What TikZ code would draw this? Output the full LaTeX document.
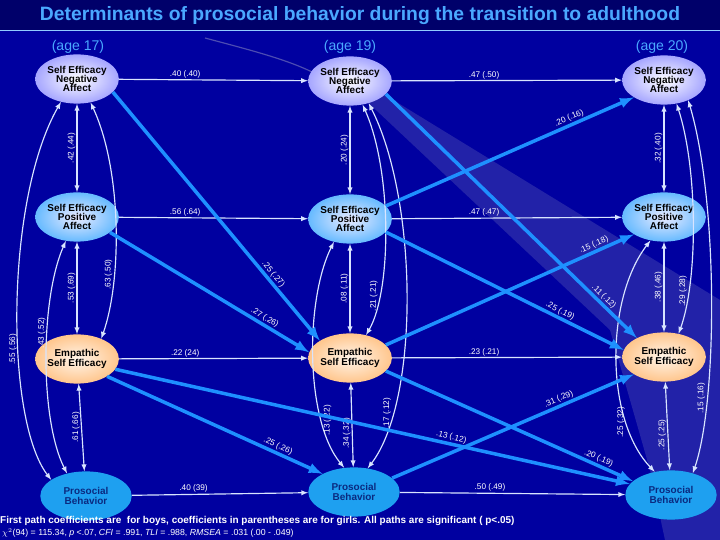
\documentclass[tikz,border=0pt]{standalone}
\usepackage{fontspec}
\setmainfont{Liberation Sans}
\usetikzlibrary{shapes.geometric}
\definecolor{bgblue}{HTML}{0000A0}
\definecolor{barblue}{HTML}{00006A}
\definecolor{agecol}{HTML}{4AA8FF}
\definecolor{thinline}{HTML}{D8E4FF}
\definecolor{thickline}{HTML}{1E90FF}
\definecolor{pbblue}{HTML}{1EA0F0}
\definecolor{pbtext}{HTML}{0A2A80}
\tikzset{
  latent/.style={ellipse, minimum width=70, minimum height=42, inner sep=0pt,
    align=center, font=\fontsize{8.5}{8}\selectfont\bfseries, text=black},
  negbox/.style={latent, inner color=white, outer color=blue!35!white},
  posbox/.style={latent, inner color=blue!8!white, outer color=blue!45!cyan!60!white},
  empbox/.style={latent, inner color=orange!8!white, outer color=orange!45!white},
  probox/.style={latent, minimum width=78, fill=pbblue, text=pbtext},
  lag/.style={draw=thinline, line width=1pt, -latex},
  cor/.style={draw=thinline, line width=1pt, latex-latex},
  cross/.style={draw=thickline, line width=3pt, -latex},
  coef/.style={font=\fontsize{7}{7}\selectfont, text=white, inner sep=1pt},
  age/.style={font=\fontsize{12}{12}\selectfont, text=agecol}
}
\begin{document}
\begin{tikzpicture}[x=0.03cm, y=-0.03cm]
\useasboundingbox (0,0) rectangle (720,540);
\fill[bgblue] (0,0) rectangle (720,540);
\fill[barblue] (0,0) rectangle (720,30);
\draw[agecol!60, line width=0.8pt] (0,30) -- (720,30);
\node[font=\fontsize{16.5}{16}\selectfont\bfseries, text=agecol] (title) at (360,16)
  {Determinants of prosocial behavior during the transition to adulthood};

% background band
\fill[blue!40!gray, opacity=0.45] (360,95) -- (385,95) -- (720,300) -- (720,540)
  -- (665,540) -- (650,470) -- (610,330) -- cycle;
\draw[blue!40!gray, line width=1pt] (205,38) .. controls (250,50) and (290,60) .. (318,75);

\node[age] (a17) at (78,47) {(age 17)};
\node[age] (a19) at (350,47) {(age 19)};
\node[age] (a20) at (662,47) {(age 20)};

% age 17
\node[negbox] (n17) at (77,79) {Self Efficacy\\Negative\\Affect};
\node[posbox] (p17) at (77,217) {Self Efficacy\\Positive\\Affect};
\node[empbox] (e17) at (77,359) {Empathic\\Self Efficacy};
\node[probox] (b17) at (86,496) {Prosocial\\Behavior};
% age 19
\node[negbox] (n19) at (350,81) {Self Efficacy\\Negative\\Affect};
\node[posbox] (p19) at (350,219) {Self Efficacy\\Positive\\Affect};
\node[empbox] (e19) at (350,358) {Empathic\\Self Efficacy};
\node[probox] (b19) at (354,492) {Prosocial\\Behavior};
% age 20
\node[negbox] (n20) at (664,80) {Self Efficacy\\Negative\\Affect};
\node[posbox] (p20) at (664,217) {Self Efficacy\\Positive\\Affect};
\node[empbox] (e20) at (664,357) {Empathic\\Self Efficacy};
\node[probox] (b20) at (671,495) {Prosocial\\Behavior};

% stability paths
\draw[lag] (n17) -- node[coef, pos=0.35, above] {.40 (.40)} (n19);
\draw[lag] (n19) -- node[coef, pos=0.4, above] {.47 (.50)} (n20);
\draw[lag] (p17) -- node[coef, pos=0.35, above] {.56 (.64)} (p19);
\draw[lag] (p19) -- node[coef, pos=0.4, above] {.47 (.47)} (p20);
\draw[lag] (e17) -- node[coef, pos=0.35, above] {.22 (24)} (e19);
\draw[lag] (e19) -- node[coef, pos=0.4, above] {.23 (.21)} (e20);
\draw[lag] (b17) -- node[coef, pos=0.35, above] {.40 (39)} (b19);
\draw[lag] (b19) -- node[coef, pos=0.4, above] {.50 (.49)} (b20);

% correlations age 17
\draw[cor] (n17) -- node[coef, rotate=90, above] {.42 (.44)} (p17);
\draw[cor] (p17) -- node[coef, rotate=90, above] {.53 (.69)} (e17);
\draw[cor] (e17) -- node[coef, rotate=90, above] {.61 (.66)} (b17);
\draw[cor] (n17.-60) .. controls (122,170) and (122,280) .. node[coef, pos=0.7, rotate=90, above] {.63 (.50)} (e17.40);
\draw[cor] (n17.235) .. controls (5,200) and (5,420) .. node[coef, pos=0.6, rotate=90, above] {.55 (.56)} (b17.155);
\draw[cor] (p17.245) .. controls (40,300) and (40,420) .. node[coef, pos=0.4, rotate=90, above] {.43 (.52)} (b17.130);
% correlations age 19
\draw[cor] (n19) -- node[coef, rotate=90, above] {.20 (.24)} (p19);
\draw[cor] (p19) -- node[coef, rotate=90, above] {.08 (.11)} (e19);
\draw[cor] (e19) -- node[coef, pos=0.6, rotate=90, above] {.34 (.32)} (b19);
\draw[cor] (n19.-62) .. controls (392,170) and (392,290) .. node[coef, pos=0.78, rotate=90, above] {.21 (.21)} (e19.55);
\draw[cor] (n19.-50) .. controls (418,200) and (420,400) .. node[coef, pos=0.8, rotate=90, above] {.17 (.12)} (b19.60);
\draw[cor] (p19.235) .. controls (305,300) and (305,420) .. node[coef, pos=0.75, rotate=90, below] {.13 (.22)} (b19.112);
% correlations age 20
\draw[cor] (n20) -- node[coef, rotate=90, above] {.32 (.40)} (p20);
\draw[cor] (p20) -- node[coef, rotate=90, above] {.38 (.46)} (e20);
\draw[cor] (e20) -- node[coef, pos=0.6, rotate=90, above] {.25 (.25)} (b20);
\draw[cor] (n20.-62) .. controls (698,170) and (698,280) .. node[coef, pos=0.78, rotate=90, above] {.29 (.28)} (e20.58);
\draw[cor] (n20.-40) .. controls (718,200) and (718,400) .. node[coef, pos=0.75, rotate=90, above] {.15 (.16)} (b20.45);
\draw[cor] (p20.240) .. controls (605,300) and (605,420) .. node[coef, pos=0.75, rotate=90, above] {.25 (.32)} (b20.125);

% cross-lagged paths
\draw[cross] (n17.-20) -- node[coef, pos=0.75, sloped, above] {.25 (.27)} (e19.150);
\draw[cross] (p17.-25) -- node[coef, pos=0.76, sloped, above] {.27 (.26)} (e19.172);
\draw[cross] (e17.-30) -- node[coef, pos=0.78, sloped, above] {.25 (.26)} (b19.150);
\draw[cross] (e17.-15) -- node[coef, pos=0.65, sloped, above] {.13 (.12)} (b20.165);
\draw[cross] (n19.-20) -- node[coef, pos=0.85, sloped, above] {.11 (.12)} (e20.145);
\draw[cross] (p19.-20) -- node[coef, pos=0.72, sloped, above] {.25 (.19)} (e20.170);
\draw[cross] (p19.20) -- node[coef, pos=0.75, sloped, above] {.20 (.16)} (n20.-150);
\draw[cross] (e19.20) -- node[coef, pos=0.85, sloped, above] {.15 (.18)} (p20.-150);
\draw[cross] (b19.20) -- node[coef, pos=0.7, sloped, above] {.31 (.29)} (e20.-150);
\draw[cross] (e19.-20) -- node[coef, pos=0.85, sloped, above] {.20 (.19)} (b20.160);

% notes
\node[anchor=west, font=\fontsize{8.5}{8}\selectfont\bfseries, text=white, inner sep=0pt] (note) at (0,521)
  {First path coefficients are\ \ for boys, coefficients in parentheses are for girls. All paths are significant ( p<.05)};
\node[anchor=west, font=\fontsize{7.5}{7.5}\selectfont, text=white, inner sep=0pt] (fit) at (2,533)
  {$\chi^2$(94) = 115.34, \textit{p} <.07, \textit{CFI} = .991, \textit{TLI} = .988, \textit{RMSEA} = .031 (.00 - .049)};
\end{tikzpicture}
\end{document}
